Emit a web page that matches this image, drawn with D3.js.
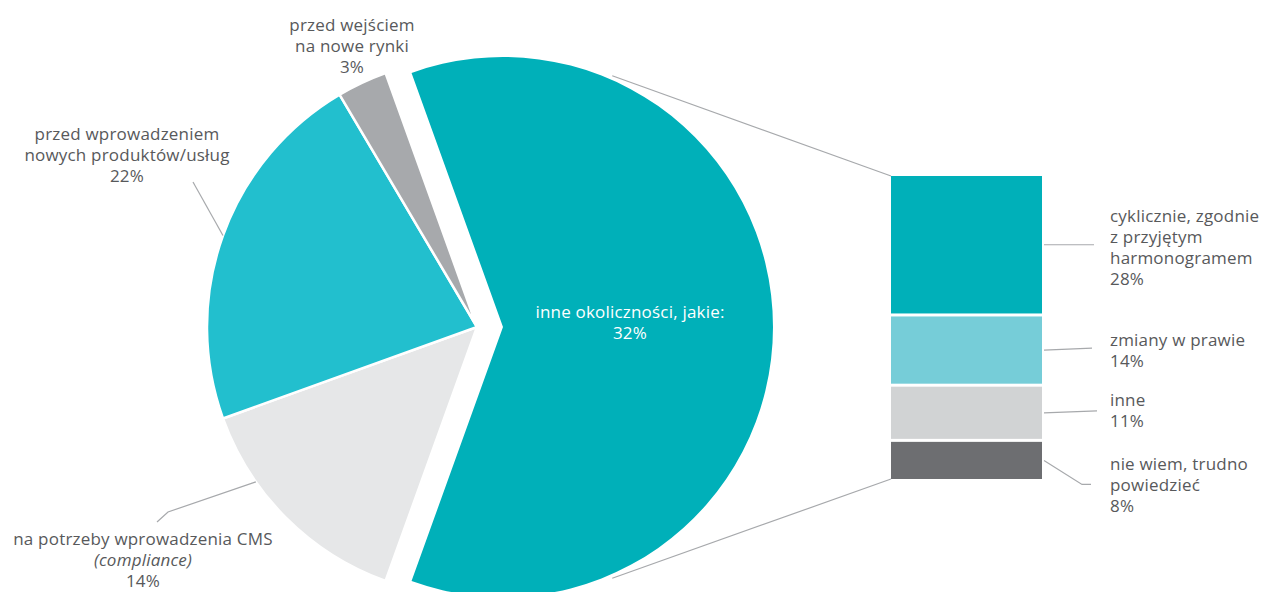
<!DOCTYPE html>
<html>
<head>
<meta charset="utf-8">
<script src="https://cdn.jsdelivr.net/npm/d3@7"></script>
<style>
  html, body { margin: 0; padding: 0; background: #ffffff; }
  svg { display: block; }
  text { font-family: "Open Sans", "Noto Sans", sans-serif; font-size: 17px; letter-spacing: 0.2px; fill: #58595b; }
</style>
</head>
<body>
<svg id="chart" width="1265" height="592"></svg>
<script>
// ---- data ----
// main pie: slices drawn clockwise, starting with the exploded slice
const pieKeys = ["inne", "compliance", "produkty", "rynki"];
const pieValues = [null, 14, 22, 3]; // "inne" slice = sum of its breakdown below
const pieLabels = [
  ["inne okoliczności, jakie:", "32%"],
  ["na potrzeby wprowadzenia CMS", "(compliance)", "14%"],
  ["przed wprowadzeniem", "nowych produktów/usług", "22%"],
  ["przed wejściem", "na nowe rynki", "3%"]
];
const pieColors = ["#00b0b9", "#e6e7e8", "#22bfce", "#a7a9ac"];

// breakdown of the exploded slice
const barKeys = ["cyklicznie", "prawo", "inne", "nie wiem"];
const barValues = [28, 14, 11, 8];
const barLabels = [
  ["cyklicznie, zgodnie", "z przyjętym", "harmonogramem", "28%"],
  ["zmiany w prawie", "14%"],
  ["inne", "11%"],
  ["nie wiem, trudno", "powiedzieć", "8%"]
];
const barColors = ["#00b0b9", "#76cdd8", "#d1d3d4", "#6d6e71"];

pieValues[0] = d3.sum(barValues);

// ---- layout ----
const svg = d3.select("#chart");
const cx = 477, cy = 327, R = 270, explode = 26;
const lineColor = "#a7a9ac";
const lh = 21;

const total = d3.sum(pieValues);
const bigSpan = pieValues[0] / total * 2 * Math.PI;
const pie = d3.pie().sort(null)
  .startAngle(Math.PI / 2 - bigSpan / 2)
  .endAngle(Math.PI / 2 - bigSpan / 2 + 2 * Math.PI);
const arcs = pie(pieValues);
const arc = d3.arc().innerRadius(0).outerRadius(R);

const polar = (ox, oy, r, a) => [ox + r * Math.sin(a), oy - r * Math.cos(a)];

// pie slices
const gPie = svg.append("g");
gPie.selectAll("path.slice")
  .data(arcs)
  .join("path")
  .attr("class", "slice")
  .attr("d", arc)
  .attr("fill", (d, i) => pieColors[i])
  .attr("stroke", "#ffffff")
  .attr("stroke-width", (d, i) => i === 0 ? 0 : 2.5)
  .attr("stroke-linejoin", "round")
  .attr("transform", (d, i) => {
    if (i !== 0) return `translate(${cx},${cy})`;
    const mid = (d.startAngle + d.endAngle) / 2;
    const [ex, ey] = polar(cx, cy, explode, mid);
    return `translate(${ex},${ey})`;
  });

// bar for the breakdown
const barX0 = 891, barX1 = 1042, barTop = 176, gap = 3;
const y = d3.scaleLinear().domain([0, d3.sum(barValues)]).range([barTop, barTop + 306]);
const stacked = [];
let acc = 0;
barValues.forEach((v, i) => { stacked.push({ i, y0: acc, y1: acc + v }); acc += v; });

svg.append("g").selectAll("rect")
  .data(stacked)
  .join("rect")
  .attr("x", barX0)
  .attr("width", barX1 - barX0)
  .attr("y", d => y(d.y0))
  .attr("height", d => y(d.y1) - y(d.y0) - gap)
  .attr("fill", d => barColors[d.i]);

// connector lines from exploded slice to bar
const bigMid = (arcs[0].startAngle + arcs[0].endAngle) / 2;
const [bcx, bcy] = polar(cx, cy, explode, bigMid);
const connAng = 23.5 * Math.PI / 180;
const topStart = polar(bcx, bcy, R + 4, connAng);
const botStart = polar(bcx, bcy, R + 4, Math.PI - connAng);
const barBottom = y(d3.sum(barValues)) - gap;
const gLines = svg.append("g").attr("fill", "none").attr("stroke", lineColor).attr("stroke-width", 1.2);
gLines.append("line").attr("x1", topStart[0]).attr("y1", topStart[1]).attr("x2", barX0).attr("y2", barTop);
gLines.append("line").attr("x1", botStart[0]).attr("y1", botStart[1]).attr("x2", barX0).attr("y2", barBottom);

// leader lines for the bar segments
const barLeaderEnds = [[[1094, 0]], [[1092, -2]], [[1097, -2]], [[1082, 24], [1091, 24]]];
stacked.forEach((d, k) => {
  const my = (y(d.y0) + y(d.y1) - gap) / 2;
  const pts = [[barX1 + 2, my]].concat(barLeaderEnds[k].map(p => [p[0], my + p[1]]));
  gLines.append("path").attr("d", d3.line()(pts));
});

// leader lines for two pie labels
const pieLeaders = [
  { slice: 2, ang: null, pts: [[193, 182]] },
  { slice: 1, ang: 235, pts: [[168, 512], [157, 522]] }
];
pieLeaders.forEach(L => {
  const a = L.ang === null ? (arcs[L.slice].startAngle + arcs[L.slice].endAngle) / 2 : L.ang * Math.PI / 180;
  const p0 = polar(cx, cy, R, a);
  gLines.append("path").attr("d", d3.line()([p0].concat(L.pts)));
});

// text labels
function block(x, baseY, lines, anchor, opts = {}) {
  const t = svg.append("text").attr("text-anchor", anchor);
  lines.forEach((s, j) => {
    const ts = t.append("tspan").attr("x", x).attr("y", baseY + j * lh).text(s);
    if (opts.italic && opts.italic.includes(j)) ts.attr("font-style", "italic");
    if (opts.fill) ts.style("fill", opts.fill);
  });
  return t;
}

// pie labels
block(630, 318, pieLabels[0], "middle", { fill: "#ffffff" });
block(143, 545, pieLabels[1], "middle", { italic: [1] });
block(127, 140, pieLabels[2], "middle");
block(352, 31, pieLabels[3], "middle");

// bar labels
const barLabelBase = [222, 346, 406, 470];
barLabels.forEach((lines, k) => block(1110, barLabelBase[k], lines, "start"));
</script>
</body>
</html>
